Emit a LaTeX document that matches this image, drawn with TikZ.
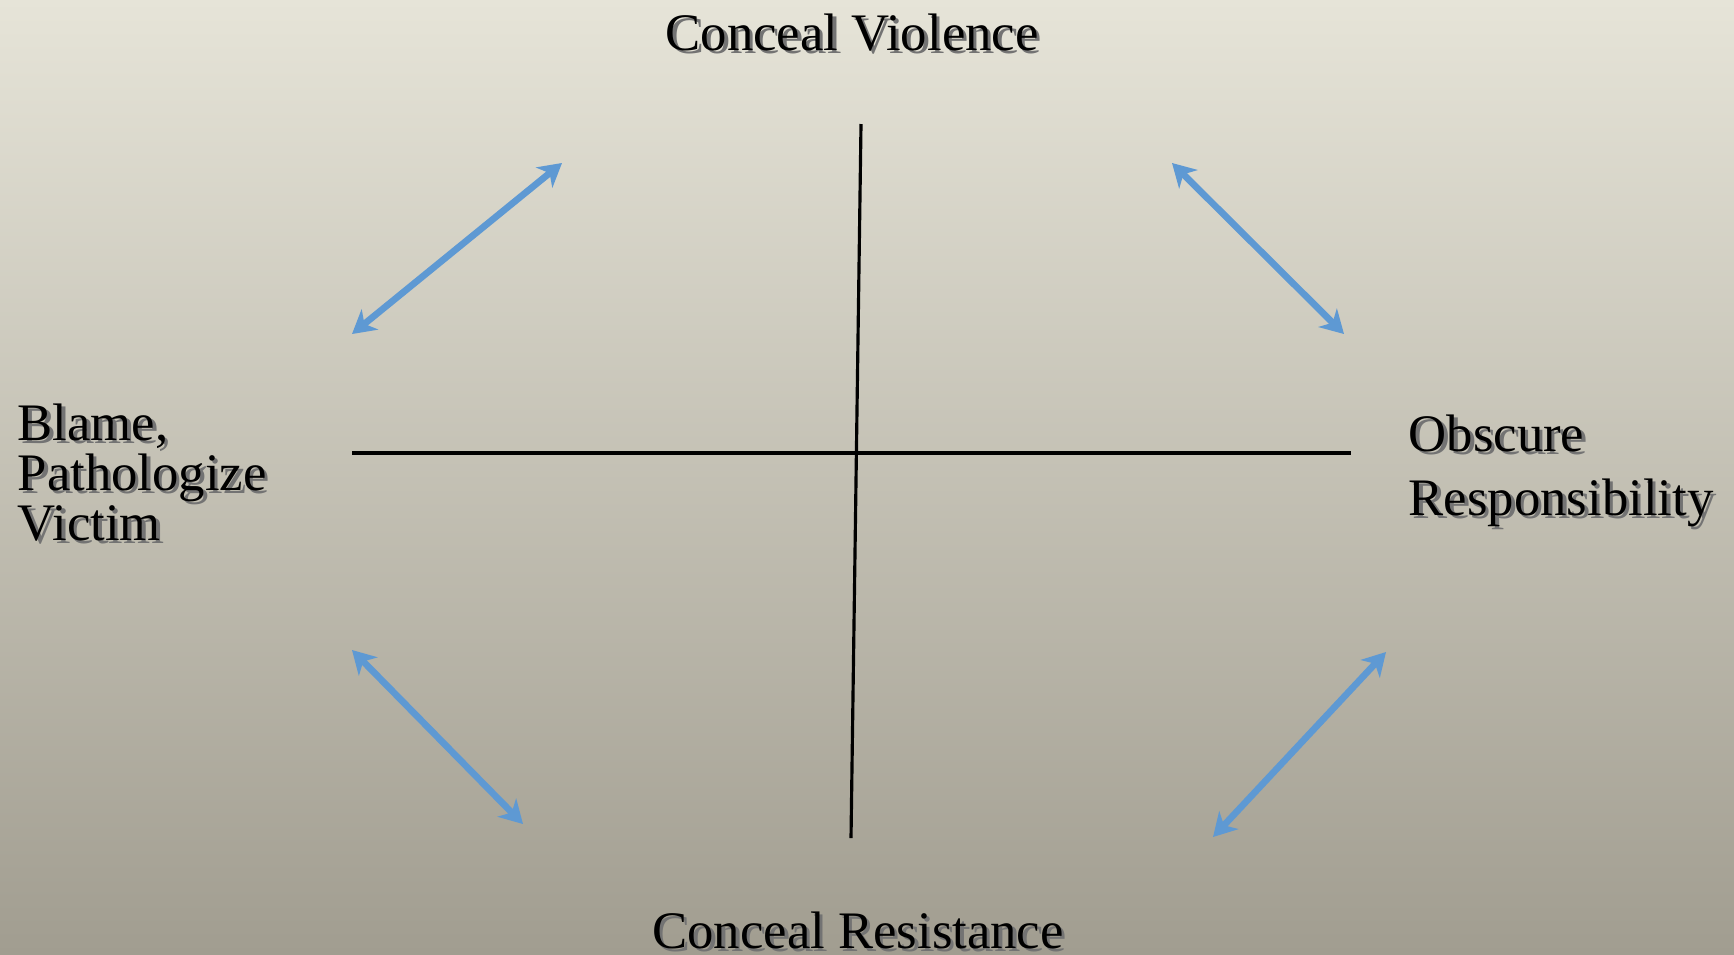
\documentclass[tikz,border=0pt]{standalone}
\usepackage{fontspec}
\setmainfont{Liberation Serif}
\usepackage{xcolor}
\usetikzlibrary{arrows.meta}

\definecolor{bgtop}{RGB}{230,228,216}
\definecolor{bgbot}{RGB}{161,157,144}
\definecolor{arrblue}{RGB}{94,153,211}

% text with a soft drop shadow
\newcommand{\shd}[1]{\leavevmode\rlap{\kern1pt\raisebox{-1pt}{\color{black!55}#1}}#1}

\tikzset{
    lbl/.style={inner sep=0pt, font=\fontsize{15}{14.2}\selectfont},
    axis/.style={black, line width=0.9pt},
    twoway/.style={arrblue, line width=1.9pt,
        {Stealth[length=2.3mm, width=2.6mm, inset=0.7mm]}-{Stealth[length=2.3mm, width=2.6mm, inset=0.7mm]}}
}

\begin{document}
\begin{tikzpicture}[x=0.1mm, y=-0.1mm]
        \shade[top color=bgtop, bottom color=bgbot] (0, 0) rectangle (1734, 954);
        \useasboundingbox (0, 0) rectangle (1734, 954);

        \node[lbl, anchor=base] (cv) at (852, 50) {\shd{Conceal Violence}};
        \node[lbl, anchor=base] (cr) at (858, 948) {\shd{Conceal Resistance}};
        \node[lbl, anchor=base west, align=left] (bv) at (17, 540)
            {\shd{Blame,}\\\shd{Pathologize}\\\shd{Victim}};
        \node[lbl, anchor=base west, align=left, font=\fontsize{15}{18.2}\selectfont] (or) at (1408, 515)
            {\shd{Obscure}\\\shd{Responsibility}};

        \coordinate (vt) at (861, 124);
        \coordinate (vb) at (851, 838);
        \coordinate (hl) at (352, 453);
        \coordinate (hr) at (1351, 453);
        \draw[axis] (vt) -- (vb);
        \draw[axis] (hl) -- (hr);

        \coordinate (tl1) at (352, 334);
        \coordinate (tl2) at (562, 163);
        \coordinate (tr1) at (1172, 163);
        \coordinate (tr2) at (1344, 334);
        \coordinate (bl1) at (352, 650);
        \coordinate (bl2) at (523, 824);
        \coordinate (br1) at (1386, 652);
        \coordinate (br2) at (1213, 837);

        \draw[twoway] (tl1) -- (tl2);
        \draw[twoway] (tr1) -- (tr2);
        \draw[twoway] (bl1) -- (bl2);
        \draw[twoway] (br1) -- (br2);
    \end{tikzpicture}
\end{document}
